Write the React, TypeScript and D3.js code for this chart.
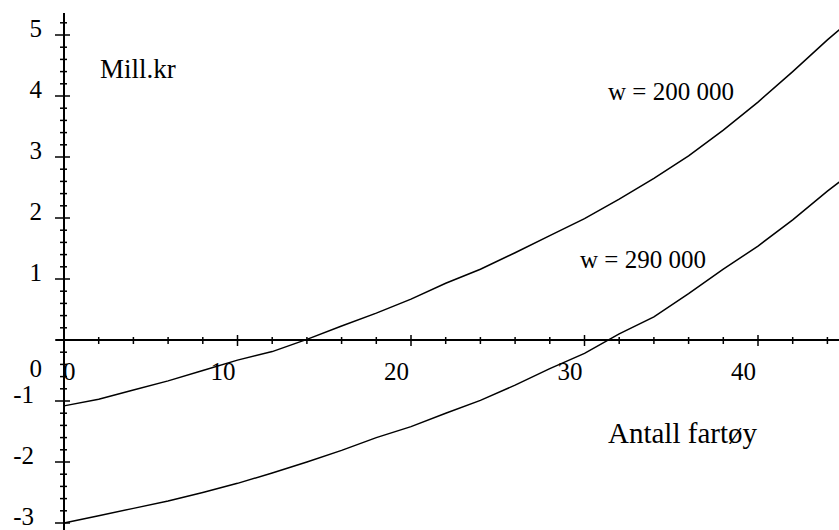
import React from "react";
import * as d3 from "d3";

// Number of vessels (x) and profit in million NOK for two wage levels
const vessels = [0, 2, 4, 6, 8, 10, 12, 14, 16, 18, 20, 22, 24, 26, 28, 30, 32, 34, 36, 38, 40, 42, 44, 45];
const profitW200 = [-1.08, -0.97, -0.82, -0.67, -0.5, -0.33, -0.19, 0.01, 0.23, 0.44, 0.67, 0.93, 1.16, 1.43, 1.71, 1.99, 2.31, 2.65, 3.02, 3.44, 3.9, 4.4, 4.92, 5.16];
const profitW290 = [-3.0, -2.88, -2.76, -2.64, -2.5, -2.35, -2.18, -2.0, -1.81, -1.6, -1.42, -1.2, -0.99, -0.74, -0.47, -0.22, 0.1, 0.38, 0.76, 1.16, 1.54, 1.97, 2.44, 2.66];

const xTickLabels = [0, 10, 20, 30, 40];
const yTickLabels = [-3, -2, -1, 0, 1, 2, 3, 4, 5];

const seriesLabels = ["w = 200 000", "w = 290 000"];
const yTitle = "Mill.kr";
const xTitle = "Antall fartøy";

const W = 839;
const H = 530;
const FONT = "Liberation Serif, Times New Roman, DejaVu Serif, serif";
const txt = { fontFamily: FONT, fill: "#000" } as React.CSSProperties;

export default function App() {
  const x = d3.scaleLinear().domain([0, 40]).range([64, 758]);
  const y = d3.scaleLinear().domain([-3, 5]).range([523, 35]);

  const line = d3
    .line<[number, number]>()
    .x((d) => x(d[0]))
    .y((d) => y(d[1]));

  const s1 = vessels.map((v, i) => [v, profitW200[i]] as [number, number]);
  const s2 = vessels.map((v, i) => [v, profitW290[i]] as [number, number]);

  const x0 = x(0);
  const y0 = y(0);

  // minor ticks every 2 vessels, major every 10
  const xTicks = d3.range(0, 45, 2);
  // minor ticks every 0.2 mill, major every whole million
  const yTicks = d3.range(-15, 27).map((k) => k / 5);

  return (
    <svg
      width={W}
      height={H}
      style={{ position: "absolute", left: 0, top: 0, background: "#fff", fontFamily: FONT }}
    >
      <rect width={W} height={H} fill="#fff" />

      {/* axes */}
      <line x1={56} x2={W} y1={y0} y2={y0} stroke="#000" strokeWidth={2} />
      <line x1={x0} x2={x0} y1={13} y2={H} stroke="#000" strokeWidth={2} />

      {xTicks.map((t) => {
        const major = t % 10 === 0;
        return (
          <line
            key={"xt" + t}
            x1={x(t)}
            x2={x(t)}
            y1={y0 - (major ? 5 : 3)}
            y2={y0 + (major ? 6 : 4)}
            stroke="#000"
            strokeWidth={1.5}
          />
        );
      })}
      {yTicks.map((t) => {
        const major = Math.abs(t - Math.round(t)) < 1e-6;
        return (
          <line
            key={"yt" + t}
            x1={x0 - (major ? 9 : 4)}
            x2={x0 + (major ? 6 : 3)}
            y1={y(t)}
            y2={y(t)}
            stroke="#000"
            strokeWidth={1.5}
          />
        );
      })}

      {/* x tick labels */}
      {xTickLabels.map((t) =>
        t === 0 ? (
          <text key={"xl" + t} x={x(t) - 1} y={380} fontSize={25} textAnchor="start" style={txt}>
            {t}
          </text>
        ) : (
          <text key={"xl" + t} x={x(t) - 2} y={380} fontSize={25} textAnchor="end" style={txt}>
            {t}
          </text>
        )
      )}

      {/* y tick labels */}
      {yTickLabels.map((t) => (
        <text
          key={"yl" + t}
          x={t < 0 ? 34 : 42}
          y={t === 0 ? 377 : y(t) + 2}
          fontSize={25}
          textAnchor="end"
          style={txt}
        >
          {t < 0 ? "-" + Math.abs(t) : t}
        </text>
      ))}

      {/* curves */}
      <path d={line(s1) || ""} fill="none" stroke="#000" strokeWidth={1.5} />
      <path d={line(s2) || ""} fill="none" stroke="#000" strokeWidth={1.5} />

      {/* labels */}
      <text x={100} y={78} fontSize={27} style={txt}>
        {yTitle}
      </text>
      <text x={608} y={100} fontSize={25} style={txt}>
        {seriesLabels[0]}
      </text>
      <text x={580} y={268} fontSize={25} style={txt}>
        {seriesLabels[1]}
      </text>
      <text x={608} y={443} fontSize={29} style={txt}>
        {xTitle}
      </text>
    </svg>
  );
}
